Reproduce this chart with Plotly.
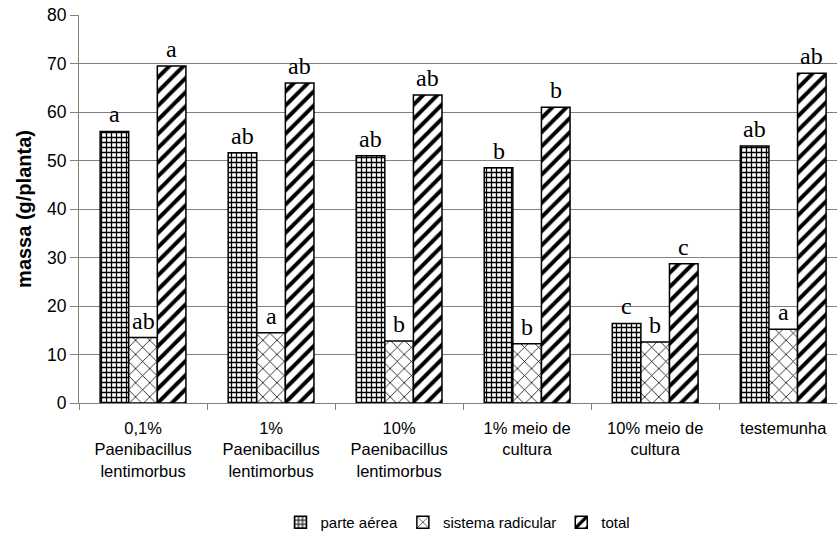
import plotly.graph_objects as go

categories = [
    "0,1%<br>Paenibacillus<br>lentimorbus",
    "1%<br>Paenibacillus<br>lentimorbus",
    "10%<br>Paenibacillus<br>lentimorbus",
    "1% meio de<br>cultura",
    "10% meio de<br>cultura",
    "testemunha",
]

parte_aerea = [56.0, 51.6, 51.0, 48.5, 16.4, 53.0]
sistema_radicular = [13.5, 14.5, 12.8, 12.2, 12.6, 15.2]
total = [69.5, 66.0, 63.5, 61.0, 28.7, 68.0]

letters_parte = ["a", "ab", "ab", "b", "c", "ab"]
letters_radicular = ["ab", "a", "b", "b", "b", "a"]
letters_total = ["a", "ab", "ab", "b", "c", "ab"]

BARGAP = 0.33
series = [
    ("parte aérea", parte_aerea, letters_parte, dict(shape="+", size=5, solidity=0.45)),
    ("sistema radicular", sistema_radicular, letters_radicular, dict(shape="x", size=10, solidity=0.15)),
    ("total", total, letters_total, dict(shape="/", size=10, solidity=0.4)),
]

fig = go.Figure()
bar_w = (1 - BARGAP) / len(series)
annotations = []
for k, (name, vals, letters, pat) in enumerate(series):
    fig.add_trace(go.Bar(
        name=name,
        x=categories,
        y=vals,
        marker=dict(
            color="white",
            line=dict(color="black", width=1.5),
            pattern=dict(fillmode="overlay", fgcolor="black", fgopacity=1,
                         bgcolor="white", **pat),
        ),
    ))
    # significance letters centred over each bar
    offset = (k - (len(series) - 1) / 2) * bar_w
    for i, (v, lt) in enumerate(zip(vals, letters)):
        annotations.append(dict(
            x=i + offset, y=v, xref="x", yref="y",
            text=lt, showarrow=False,
            yanchor="bottom", xanchor="center", yshift=2,
            font=dict(family="Liberation Serif", size=24, color="black"),
        ))

fig.update_layout(
    width=837,
    height=539,
    margin=dict(l=79, r=0, t=15, b=135),
    paper_bgcolor="white",
    plot_bgcolor="white",
    barmode="group",
    bargap=BARGAP,
    bargroupgap=0,
    font=dict(family="Liberation Sans", size=16, color="black"),
    annotations=annotations,
    showlegend=True,
    legend=dict(
        orientation="h",
        x=0.5,
        xanchor="center",
        y=-0.3085,
        yanchor="middle",
        font=dict(size=15),
        itemwidth=30,
        tracegroupgap=0,
    ),
    xaxis=dict(
        type="category",
        range=[-0.5, 5.42],
        automargin=False,
        showline=True,
        linecolor="#808080",
        linewidth=1,
        ticks="outside",
        tickson="boundaries",
        ticklen=6,
        tickcolor="#808080",
        showgrid=False,
        tickfont=dict(size=16.5),
        ticklabelstandoff=10,
    ),
    yaxis=dict(
        range=[0, 80],
        dtick=10,
        automargin=False,
        showline=True,
        linecolor="#808080",
        linewidth=1,
        ticks="outside",
        ticklen=8,
        tickcolor="#808080",
        showgrid=True,
        gridcolor="#808080",
        gridwidth=1,
        zeroline=False,
        tickfont=dict(size=17.5),
        title=dict(text="<b>massa (g/planta)</b>", font=dict(size=20), standoff=10),
    ),
)

fig.write_html("out.html")
